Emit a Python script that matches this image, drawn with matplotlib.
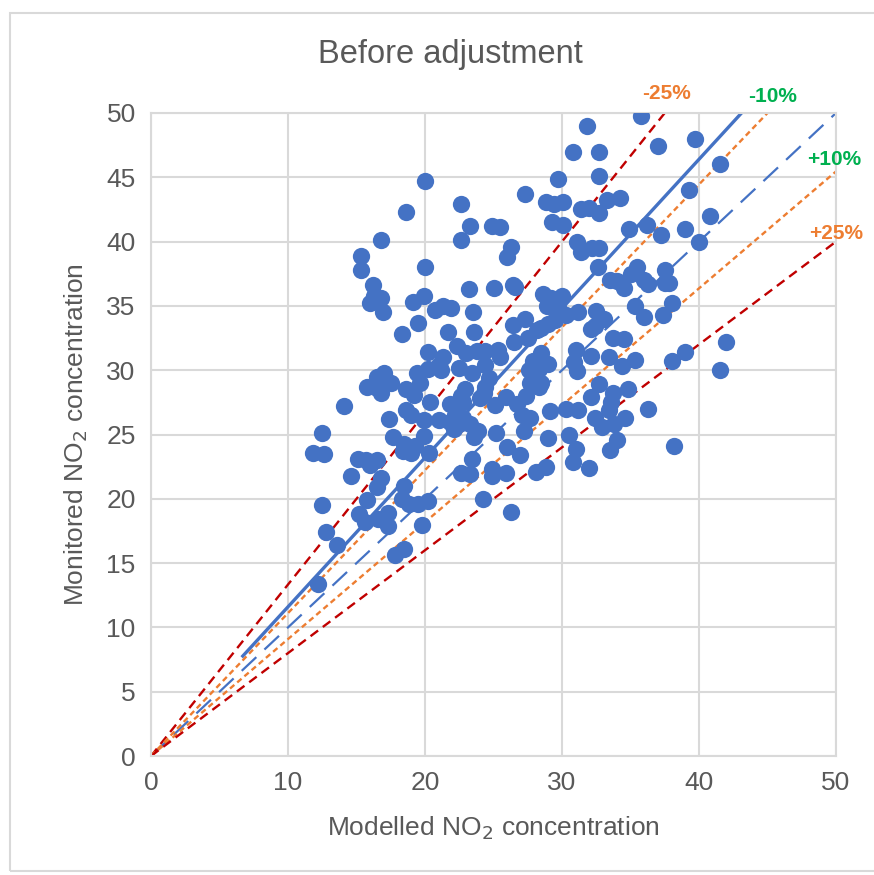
import matplotlib.pyplot as plt
from matplotlib.patches import Rectangle
import numpy as np

# Modelled vs monitored NO2
modelled = [35.8, 31.8, 32.7, 30.8, 37.0, 39.7, 27.3, 29.7, 28.8, 29.4, 30.1, 31.4, 32.0, 32.7,
            32.7, 33.3, 34.2, 34.9, 36.2, 39.3, 41.5, 40.8, 39.0, 40.0, 37.2, 22.6, 20.0, 18.6,
            23.3, 24.9, 25.5, 26.0, 26.3, 22.6, 29.3, 31.1, 31.4, 32.2, 32.7, 32.6, 30.1, 16.8,
            15.3, 15.3, 16.2, 16.3, 16.0, 16.8, 16.9, 20.0, 19.1, 19.9, 18.3, 19.5, 20.7, 21.3,
            21.9, 21.7, 21.3, 20.2, 22.3, 23.5, 23.6, 23.2, 25.0, 26.4, 26.6, 27.3, 28.2, 28.5,
            29.0, 29.5, 29.8, 30.0, 29.2, 28.6, 28.9, 30.3, 31.2, 32.5, 33.1, 32.4, 33.5, 34.0,
            34.5, 35.0, 35.5, 36.0, 36.3, 37.5, 37.5, 35.3, 36.0, 37.4, 38.0, 37.8, 33.7, 34.5,
            35.3, 34.4, 33.4, 32.1, 31.0, 30.9, 31.1, 32.1, 38.0, 39.0, 41.5, 42.0, 38.2, 36.3,
            34.8, 34.6, 33.7, 32.7, 33.6, 33.4, 32.4, 32.9, 33.8, 34.0, 33.5, 32.1, 31.2, 30.3,
            30.5, 31.0, 30.8, 32.0, 29.1, 29.0, 28.8, 28.1, 27.7, 27.1, 26.0, 25.9, 26.9, 26.3,
            24.9, 24.9, 24.2, 23.3, 22.6, 23.4, 23.6, 23.9, 23.3, 22.8, 22.5, 22.1, 22.2, 22.8,
            22.2, 21.8, 21.0, 21.8, 20.4, 19.9, 19.0, 18.6, 19.2, 18.6, 19.6, 19.4, 20.2, 21.0,
            21.2, 22.5, 22.9, 22.6, 23.4, 23.8, 24.4, 23.0, 24.4, 25.3, 25.5, 24.7, 24.4, 24.3,
            24.0, 25.1, 25.2, 26.5, 26.4, 27.5, 27.9, 27.6, 28.3, 27.9, 27.7, 28.3, 28.5, 29.0,
            28.5, 27.4, 26.7, 25.9, 27.2, 17.0, 16.5, 17.5, 16.5, 16.8, 15.8, 17.4, 14.1, 17.7,
            18.5, 18.4, 19.3, 19.9, 19.0, 18.5, 20.3, 16.5, 15.7, 15.1, 16.8, 16.0, 14.6, 16.5,
            15.8, 15.2, 15.6, 16.6, 18.3, 18.8, 19.5, 20.2, 19.8, 17.3, 17.3, 17.8, 18.5, 11.8,
            12.6, 12.5, 12.5, 12.8, 13.6, 12.2]
monitored = [49.8, 49.0, 47.0, 47.0, 47.4, 48.0, 43.7, 44.9, 43.1, 42.9, 43.1, 42.5, 42.6, 45.1,
             42.2, 43.2, 43.4, 41.0, 41.3, 44.0, 46.0, 42.0, 41.0, 40.0, 40.5, 42.9, 44.7, 42.3,
             41.2, 41.2, 41.1, 38.8, 39.6, 40.1, 41.5, 40.0, 39.2, 39.5, 39.5, 38.0, 41.3, 40.1,
             38.9, 37.8, 36.6, 35.8, 35.2, 35.6, 34.5, 38.0, 35.3, 35.8, 32.8, 33.7, 34.7, 35.0,
             34.8, 33.0, 31.0, 31.4, 31.9, 34.5, 33.0, 36.3, 36.4, 36.6, 36.5, 34.0, 33.1, 33.3,
             33.6, 33.9, 34.7, 35.8, 35.6, 35.9, 35.0, 34.3, 34.5, 34.6, 34.0, 33.4, 37.0, 36.9,
             36.4, 37.5, 38.0, 37.0, 36.7, 36.8, 37.8, 35.0, 34.1, 34.3, 35.2, 36.8, 32.5, 32.4,
             30.8, 30.3, 31.0, 31.1, 31.6, 30.6, 29.9, 33.2, 30.7, 31.4, 30.0, 32.2, 24.1, 27.0,
             28.5, 26.3, 28.2, 28.9, 27.5, 26.9, 26.3, 25.6, 25.8, 24.6, 23.8, 27.9, 26.9, 27.0,
             25.0, 23.9, 22.9, 22.4, 26.8, 24.7, 22.5, 22.1, 26.3, 26.5, 24.0, 22.0, 23.4, 19.0,
             22.3, 21.8, 20.0, 21.9, 22.0, 23.1, 24.8, 25.3, 25.8, 26.3, 25.8, 25.4, 26.5, 27.5,
             27.2, 27.4, 26.1, 26.0, 27.5, 26.1, 26.5, 26.9, 28.1, 28.5, 29.0, 29.8, 30.1, 30.4,
             30.0, 30.2, 28.5, 28.0, 29.8, 31.5, 31.5, 31.3, 30.4, 31.6, 31.0, 29.4, 28.7, 28.2,
             27.8, 27.3, 25.1, 32.2, 33.5, 32.5, 30.7, 30.0, 30.1, 29.6, 29.0, 28.7, 31.3, 30.5,
             29.0, 28.0, 27.4, 27.9, 25.3, 29.8, 29.5, 29.0, 28.6, 28.2, 28.7, 26.2, 27.2, 24.8,
             24.3, 23.7, 24.1, 24.9, 23.6, 21.0, 23.6, 23.0, 23.0, 23.1, 21.6, 22.6, 21.8, 20.9,
             19.9, 18.8, 18.2, 18.4, 20.0, 19.6, 19.6, 19.8, 18.0, 18.9, 17.9, 15.6, 16.1, 23.6,
             23.5, 25.1, 19.5, 17.4, 16.4, 13.4]

# Trend line extent and slope, plus the +/- bands
trend_x = [6.7, 43.1]
trend_slope = 1.16
bands = [("-25%", 0.75, "#C00000", "#ED7D31", (37.6, 51.5)),
         ("-10%", 0.90, "#ED7D31", "#00B050", (45.4, 51.3)),
         ("+10%", 1.10, "#ED7D31", "#00B050", (49.9, 46.4)),
         ("+25%", 1.25, "#C00000", "#ED7D31", (50.0, 40.6))]

grey = "#595959"
plt.rcParams["font.family"] = ["Liberation Sans", "DejaVu Sans"]
narrow = ["Liberation Sans Narrow", "Liberation Sans", "DejaVu Sans"]

fig = plt.figure(figsize=(8.74, 8.75), dpi=100)
fig.patches.append(Rectangle((10 / 874, 4 / 875), 880 / 874, 858 / 875, transform=fig.transFigure,
                             fill=False, edgecolor="#D9D9D9", linewidth=1.5))
ax = fig.add_axes([151 / 874, 1 - 756 / 875, 685 / 874, 643 / 875])

ax.scatter(modelled, monitored, s=155, color="#4472C4", zorder=3, linewidths=0)

# 1:1 line
ax.plot([0, 50], [0, 50], color="#4472C4", linewidth=1.6, dashes=(9, 5), zorder=2)
# trend line
tx = np.array(trend_x)
ax.plot(tx, trend_slope * tx, color="#4472C4", linewidth=2.4, zorder=2)

for label, factor, lcolor, tcolor, pos in bands:
    if factor < 1:
        xs = np.array([0, 50 * factor])
    else:
        xs = np.array([0, 50])
    dash = (4, 2.5) if lcolor == "#C00000" else (2.4, 1.6)
    ax.plot(xs, xs / factor, color=lcolor, linewidth=1.7, dashes=dash, zorder=2)
    ax.text(pos[0], pos[1], label, color=tcolor, fontsize=15, fontweight="bold",
            ha="center", va="center", clip_on=False, family=narrow)

ax.set_xlim(0, 50)
ax.set_ylim(0, 50)
ax.set_xticks(range(0, 51, 10))
ax.set_yticks(range(0, 51, 5))
ax.grid(True, color="#D9D9D9", linewidth=1.5, zorder=0)
ax.set_axisbelow(True)
for s in ax.spines.values():
    s.set_color("#D9D9D9")
    s.set_linewidth(1.5)
ax.tick_params(length=0, labelsize=19, labelcolor=grey, pad=11)

ax.set_xlabel("Modelled NO$_2$ concentration", fontsize=19, color=grey, labelpad=14)
ax.set_ylabel("Monitored NO$_2$ concentration", fontsize=19, color=grey, labelpad=12)
fig.text(450 / 874, 1 - 55 / 875, "Before adjustment", fontsize=23.5, color=grey,
         ha="center", va="center")

fig.savefig("out.png", dpi=100)
